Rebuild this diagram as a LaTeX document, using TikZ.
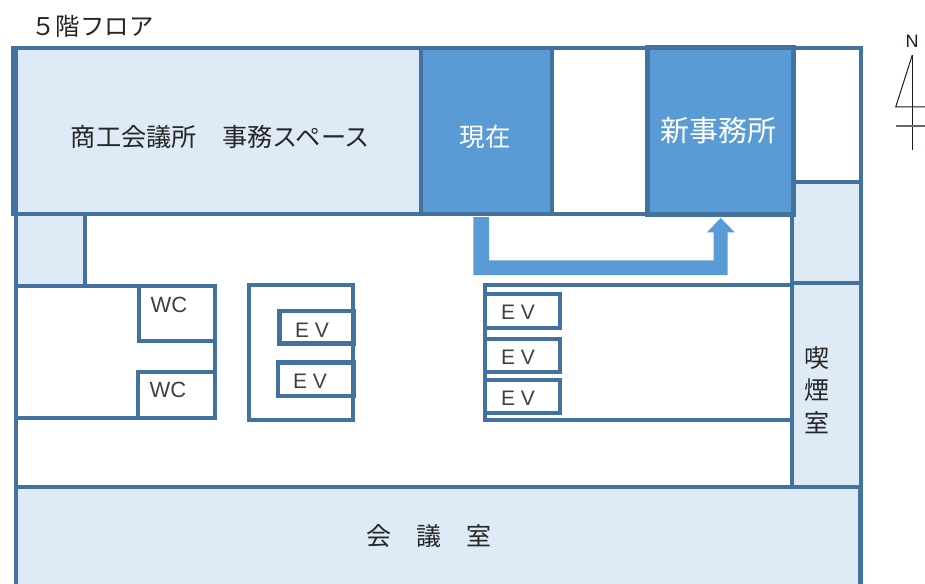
\documentclass[tikz,border=0pt]{standalone}
\usepackage{fontspec}
\setmainfont{Liberation Sans}
\newfontfamily\jpfont{Noto Sans CJK JP}
\definecolor{wallc}{HTML}{4372A0}
\definecolor{lightc}{HTML}{DEEAF6}
\definecolor{midc}{HTML}{5B9BD5}
\definecolor{compc}{HTML}{231815}
\tikzset{
 wall/.style={draw=wallc,line width=4pt,line join=miter},
 jp/.style={font=\jpfont\fontsize{#1}{#1}\selectfont,inner sep=0pt,text=black!85},
 lat/.style={font=\fontsize{#1}{#1}\selectfont,inner sep=0pt,text=black!75},
 thinline/.style={draw=compc,line width=1pt}
}
\begin{document}
\begin{tikzpicture}[x=1pt,y=-1pt]
\useasboundingbox (0,0) rectangle (925,583);
\fill[white] (0,0) rectangle (925,583);
% outer plan
\begin{scope}
\clip (0,0) rectangle (925,583);
\path[wall] (15.5,48) rectangle (861,600);
\path[wall,fill=lightc] (15.5,487) rectangle (860,600);
\path[wall,fill=lightc] (14.5,48) rectangle (421,214);
\fill[wallc] (11,46) rectangle (17.7,216);
\path[wall,fill=midc] (421,48) rectangle (551.5,214);
\path[wall] (551.5,214) -- (647,214);
\path[wall,fill=lightc] (15.5,214) rectangle (85,285.5);
% right column
\path[wall,fill=lightc] (791.7,182) rectangle (861,283);
\path[wall,fill=lightc] (791.7,283) rectangle (861,487);
\path[wall,line width=5pt,fill=midc] (647,47.5) rectangle (793,214.5);
% WC block
\path[wall] (15.5,286) rectangle (215,418);
\path[wall] (138.7,286) rectangle (215,341);
\path[wall] (137.7,372) rectangle (215,418);
% EV left block
\path[wall] (249,285) rectangle (353,419.5);
\path[wall,line width=4.4pt] (279.5,311) rectangle (353.5,343.5);
\path[wall,line width=4.2pt] (277.7,362.5) rectangle (353.5,395.7);
% EV right block
\path[wall] (485,285) rectangle (791.7,419.5);
\path[wall] (485,293.7) rectangle (560.3,328.3);
\path[wall] (485,338.7) rectangle (560.3,371.5);
\path[wall] (485,380) rectangle (560.3,413);
% route arrow
\fill[midc] (473.3,217) -- (489,217) -- (489,260.3) -- (713.7,260.3) -- (713.7,232.3) -- (707,232.3) -- (720.7,218) -- (734.7,232.3) -- (727.7,232.3) -- (727.7,275) -- (473.3,275) -- cycle;
\end{scope}
% compass
\draw[thinline,line join=miter] (912.3,55) -- (895.7,107) -- (925,107);
\draw[thinline] (912.3,55) -- (912.3,150);
\draw[draw=gray!80!black,line width=1.2pt] (896,126) -- (925,126);
\node[lat=18,text=compc] (north) at (912,41) {N};
% labels
\node[jp=24.4] (title) at (92.5,26.5) {５階フロア};
\node[jp=25.2] (office) at (220.5,137) {商工会議所　事務スペース};
\node[jp=25.5,text=white] (current) at (485,137) {現在};
\node[jp=29,text=white] (newoffice) at (718,130.5) {新事務所};
\node[jp=25] (meeting) at (429,536) {会　議　室};
\node[jp=25] (smoke1) at (816.7,358) {喫};
\node[jp=25] (smoke2) at (816.7,390) {煙};
\node[jp=25] (smoke3) at (816.7,423) {室};
\node[lat=22] (wc1) at (169,305) {WC};
\node[lat=22] (wc2) at (168,390) {WC};
\node[lat=21] (ev1) at (312,330) {E V};
\node[lat=21] (ev2) at (310,381) {E V};
\node[lat=21] (ev3) at (518,312) {E V};
\node[lat=21] (ev4) at (518,357) {E V};
\node[lat=21] (ev5) at (518,398) {E V};
\end{tikzpicture}
\end{document}
